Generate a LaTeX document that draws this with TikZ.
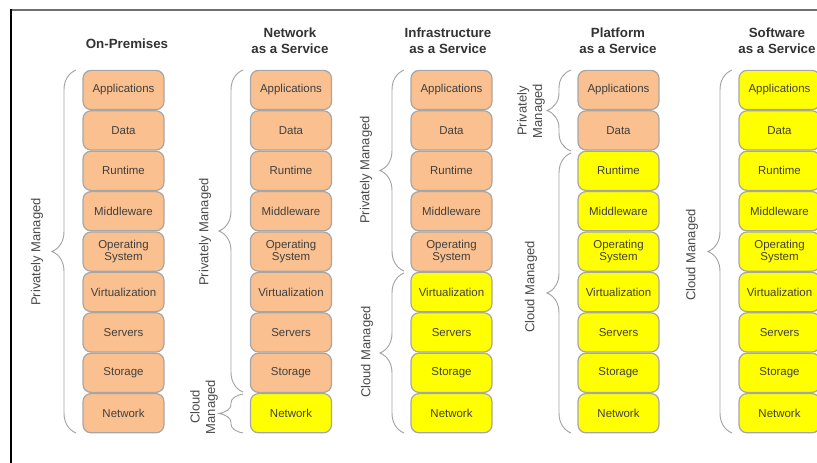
\documentclass[tikz,border=0pt]{standalone}
\usepackage{fontspec}
\setmainfont{Liberation Sans}
\definecolor{privfill}{HTML}{FAC08F}
\definecolor{cloudfill}{HTML}{FFFF00}
\definecolor{boxline}{HTML}{A6A6A6}
\definecolor{textgray}{HTML}{404040}
\definecolor{labelgray}{HTML}{4A4A4A}
\definecolor{titlegray}{HTML}{333333}
\definecolor{bracegray}{HTML}{A3A3A3}
\definecolor{frametop}{HTML}{707070}

% curly brace opening to the right: end x, top y, bottom y, curve length
\newcommand{\mybrace}[4]{%
  \draw[bracestyle] (#1,#2)
    .. controls ({#1-7.2},{#2+0.15*#4}) and ({#1-12},{#2+0.5*#4}) .. ({#1-12},{#2+#4})
    -- ({#1-12},{(#2+#3)/2-#4})
    .. controls ({#1-12},{(#2+#3)/2-0.5*#4}) and ({#1-16.8},{(#2+#3)/2-0.15*#4}) .. ({#1-24},{(#2+#3)/2})
    .. controls ({#1-16.8},{(#2+#3)/2+0.15*#4}) and ({#1-12},{(#2+#3)/2+0.5*#4}) .. ({#1-12},{(#2+#3)/2+#4})
    -- ({#1-12},{#3-#4})
    .. controls ({#1-12},{#3-0.5*#4}) and ({#1-7.2},{#3-0.15*#4}) .. (#1,#3);}

\tikzset{
  layer/.style={draw=boxline, line width=0.9pt, rounded corners=6pt,
    minimum width=60.75pt, minimum height=29.4pt, inner sep=0pt,
    align=center, text=textgray, font=\fontsize{8.6}{9}\selectfont},
  coltitle/.style={align=center, text=titlegray,
    font=\fontsize{10}{12}\selectfont\bfseries},
  sidelabel/.style={rotate=90, align=center, text=labelgray,
    font=\fontsize{9.75}{11.5}\selectfont},
  bracestyle/.style={draw=bracegray, line width=0.7pt},
}

\begin{document}
\begin{tikzpicture}[x=0.75pt, y=-0.75pt]
\useasboundingbox (0,0) rectangle (817,463);
\clip (0,0) rectangle (817,463);

% frame edges
\draw[frametop, line width=1.5pt] (10.5,10) -- (817,10);
\draw[black, line width=1.1pt] (11,9.5) -- (11,463);

% column titles
\node[coltitle] (t-op)   at (127,44)   {On-Premises};
\node[coltitle] (t-naas) at (290,41)   {Network\\as a Service};
\node[coltitle] (t-iaas) at (448,41)   {Infrastructure\\as a Service};
\node[coltitle] (t-paas) at (618,41)   {Platform\\as a Service};
\node[coltitle] (t-saas) at (777,41)   {Software\\as a Service};

% layer stacks: column name / centre x / number of privately managed layers
\foreach \col/\cx/\np in {op/123.5/9, naas/291/8, iaas/451.5/5, paas/618.5/2, saas/779.5/0} {
  \foreach \lab [count=\i] in {Applications, Data, Runtime, Middleware,
      {Operating\\System}, Virtualization, Servers, Storage, Network} {
    \ifnum\i>\np \def\fc{cloudfill}\else\def\fc{privfill}\fi
    \node[layer, fill=\fc] (\col-\i) at (\cx, {90+40.4*(\i-1)}) {\lab};
  }
}

% management braces
\mybrace{76}{70}{433}{20}
\mybrace{243}{70}{392}{20}
\mybrace{243}{394}{433}{9}
\mybrace{404}{70}{271}{20}
\mybrace{404}{273}{433}{20}
\mybrace{571}{70}{151}{18}
\mybrace{571}{153}{433}{20}
\mybrace{732}{70}{433}{20}

% brace labels
\node[sidelabel] (l-op)    at (37,252)  {Privately Managed};
\node[sidelabel] (l-naas1) at (205,232) {Privately Managed};
\node[sidelabel] (l-naas2) at (204,407) {Cloud\\Managed};
\node[sidelabel] (l-iaas1) at (366,170) {Privately Managed};
\node[sidelabel] (l-iaas2) at (367,352) {Cloud Managed};
\node[sidelabel] (l-paas1) at (531,111) {Privately\\Managed};
\node[sidelabel] (l-paas2) at (531,287) {Cloud Managed};
\node[sidelabel] (l-saas)  at (692,255) {Cloud Managed};
\end{tikzpicture}
\end{document}
